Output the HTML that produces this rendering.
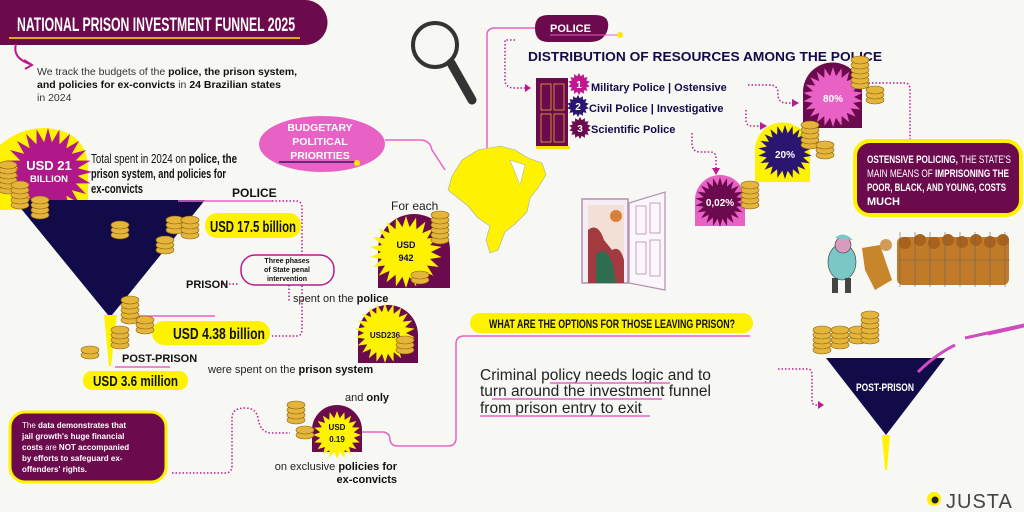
<!DOCTYPE html>
<html><head><meta charset="utf-8"><style>
html,body{margin:0;padding:0;background:#f7f7f3;}
svg{display:block;}
text{font-family:"Liberation Sans",sans-serif;}
.c{font-family:"Liberation Sans Narrow","Liberation Sans",sans-serif;font-weight:bold;}
</style></head><body>
<svg id="s" width="1024" height="512" viewBox="0 0 1024 512" xmlns="http://www.w3.org/2000/svg">
<rect width="1024" height="512" fill="#f7f7f3"/>
<!-- title -->
<path d="M0 0 H305 A22 22 0 0 1 305 45 H0 Z" fill="#6b0a4c"/>
<text x="17" y="31" class="c" font-size="19" fill="#fff" textLength="278" lengthAdjust="spacingAndGlyphs">NATIONAL PRISON INVESTMENT FUNNEL 2025</text>
<line x1="9" y1="38" x2="300" y2="38" stroke="#ffe600" stroke-width="1.5"/>
<path d="M16 44 Q12 58 30 64" stroke="#c0198f" stroke-width="2" fill="none"/>
<path d="M24 60 L32 65 L25 69" stroke="#c0198f" stroke-width="2" fill="none"/>
<text font-size="10.5" fill="#333"><tspan x="37" y="75">We track the budgets of the <tspan font-weight="bold" fill="#111">police, the prison system,</tspan></tspan><tspan x="37" y="88" font-weight="bold" fill="#111">and policies for ex-convicts <tspan font-weight="normal" fill="#333">in</tspan> 24 Brazilian states</tspan><tspan x="37" y="101">in 2024</tspan></text>

<!-- budget bubble -->
<ellipse cx="322" cy="144" rx="63" ry="28" fill="#e862c5"/>
<path d="M385 140 H420 Q430 140 432 150 L445 170" stroke="#e862c5" stroke-width="1.5" fill="none"/>
<text font-size="10.5" fill="#fff" font-weight="bold" text-anchor="middle"><tspan x="320" y="131">BUDGETARY</tspan><tspan x="320" y="145">POLITICAL</tspan><tspan x="320" y="159">PRIORITIES</tspan></text>
<line x1="279" y1="162" x2="355" y2="162" stroke="#120b4a" stroke-width="1.2"/><circle cx="357" cy="163" r="3" fill="#ffe600"/>

<!-- magnifier -->
<circle cx="435" cy="45" r="22" fill="#f7f7f3" stroke="#333" stroke-width="4"/>
<line x1="451" y1="63" x2="472" y2="100" stroke="#333" stroke-width="9" stroke-linecap="round"/>

<!-- Brazil map -->
<path d="M462 160 L478 150 L500 146 L515 150 L528 158 L542 163 L546 175 L538 188 L530 198 L527 212 L515 224 L505 232 L498 250 L490 253 L486 240 L490 226 L478 218 L468 206 L458 198 L448 190 L452 176 Z" fill="#fff200" stroke="#aaa" stroke-width=".6"/>
<path d="M510 160 L525 165 L520 185 Z" fill="#fff" stroke="#aaa" stroke-width=".5"/>
<path d="M487 148 V35 Q487 28 495 28 H535" stroke="#e862c5" stroke-width="1.5" fill="none"/>

<!-- police pill -->
<path d="M548 15 H595 Q610 15 608 28 Q605 42 590 42 H548 Q535 42 535 28 Q535 15 548 15Z" fill="#6b0a4c"/>
<text x="550" y="32" font-size="11" font-weight="bold" fill="#fff">POLICE</text>
<line x1="550" y1="35" x2="618" y2="35" stroke="#e862c5" stroke-width="1"/><circle cx="620" cy="35" r="3" fill="#ffe600"/>
<path d="M515 40 H505 V80 Q505 88 515 88 H527" stroke="#c0198f" stroke-width="1.5" stroke-dasharray="1.5 2" fill="none"/>
<path d="M525 84 L531 88 L525 92Z" fill="#c0198f"/>
<text x="528" y="61" font-size="12.5" font-weight="bold" fill="#120b4a" textLength="354" lengthAdjust="spacingAndGlyphs">DISTRIBUTION OF RESOURCES AMONG THE POLICE</text>
<!-- door -->
<rect x="536" y="78" width="32" height="68" fill="#6b0a4c"/><rect x="536" y="146" width="34" height="3" fill="#ffe600"/>
<rect x="541" y="84" width="10" height="26" fill="none" stroke="#e0b030" stroke-width=".8"/><rect x="554" y="84" width="10" height="26" fill="none" stroke="#e0b030" stroke-width=".8"/>
<rect x="541" y="114" width="10" height="28" fill="none" stroke="#e0b030" stroke-width=".8"/><rect x="554" y="114" width="10" height="28" fill="none" stroke="#e0b030" stroke-width=".8"/>
<g id="badges"></g>
<text font-size="11" font-weight="bold" fill="#120b4a"><tspan x="591" y="91">Military Police | Ostensive</tspan><tspan x="589" y="112">Civil Police | Investigative</tspan><tspan x="591" y="133">Scientific Police</tspan></text>
<text font-size="10" font-weight="bold" fill="#fff" text-anchor="middle"><tspan x="579" y="88">1</tspan><tspan x="578" y="110">2</tspan><tspan x="580" y="132">3</tspan></text>
<!-- dotted connectors -->
<g stroke="#c0198f" stroke-width="1.5" stroke-dasharray="1.5 2" fill="none">
<path d="M748 85 H770 Q777 85 778 92 V96 Q779 103 786 103 H792"/>
<path d="M746 110 V120 Q746 126 752 126 H760"/>
<path d="M692 133 V145 Q693 152 700 152 H710 Q716 152 716 158 V168"/>
<path d="M865 83 H905 Q910 83 910 90 V140"/>
<path d="M272 201 H296 Q302 201 302 208 V330 Q302 336 296 336 H272"/>
<path d="M222 284 H238"/>
<path d="M289 285 V302"/>
<path d="M172 473 H225 Q232 473 232 466 V418 Q232 408 245 408 Q256 408 258 418 Q260 433 272 433 H290"/>
<path d="M778 369 H808 Q812 369 812 375 V402 Q812 405 818 405"/>
</g>
<path d="M792 99 L799 103 L792 107Z M760 122 L767 126 L760 130Z M712 168 L716 175 L720 168Z M818 401 L824 405 L818 409Z" fill="#c0198f"/>

<!-- arches -->
<path d="M803 128 V92 A29 29 0 0 1 862 92 V128Z" fill="#6b0a4c"/>
<path d="M755 182 V150 A27 27 0 0 1 810 150 V182Z" fill="#fff200"/>
<path d="M695 226 V200 A25 25 0 0 1 745 200 V226Z" fill="#e862c5"/>
<g id="stars"></g>
<text font-size="10" font-weight="bold" fill="#fff" text-anchor="middle"><tspan x="833" y="102">80%</tspan><tspan x="785" y="158">20%</tspan><tspan x="720" y="206">0,02%</tspan></text>

<!-- ostensive box -->
<rect x="855" y="141" width="166" height="74" rx="15" fill="#6b0a4c" stroke="#fff200" stroke-width="4"/>
<text class="c" font-size="11" fill="#fff"><tspan x="867" y="163" textLength="144" lengthAdjust="spacingAndGlyphs">OSTENSIVE POLICING, <tspan font-weight="normal">THE STATE'S</tspan></tspan><tspan x="867" y="177" textLength="142" lengthAdjust="spacingAndGlyphs"><tspan font-weight="normal">MAIN MEANS OF </tspan>IMPRISONING THE</tspan><tspan x="867" y="191" textLength="139" lengthAdjust="spacingAndGlyphs">POOR, BLACK, AND YOUNG, COSTS</tspan><tspan x="867" y="205">MUCH</tspan></text>

<!-- cartoon -->
<g>
<ellipse cx="842" cy="262" rx="14" ry="18" fill="#7ac7c8" stroke="#333" stroke-width=".6"/>
<circle cx="843" cy="245" r="8" fill="#d99abf" stroke="#333" stroke-width=".6"/>
<path d="M835 238 Q843 230 853 240Z" fill="#7ac7c8"/>
<rect x="832" y="278" width="6" height="15" fill="#444"/><rect x="845" y="278" width="6" height="15" fill="#444"/>
<path d="M862 248 L880 245 L892 280 L875 290 L865 270Z" fill="#c8862a"/>
<circle cx="886" cy="245" r="6" fill="#d19a56"/>
<rect x="897" y="237" width="112" height="48" rx="6" fill="#c17a28"/>
<g fill="#a8621c"><circle cx="905" cy="243" r="6"/><circle cx="920" cy="240" r="6"/><circle cx="934" cy="243" r="6"/><circle cx="948" cy="240" r="6"/><circle cx="962" cy="242" r="6"/><circle cx="976" cy="240" r="6"/><circle cx="990" cy="242" r="6"/><circle cx="1003" cy="240" r="6"/></g>
<g stroke="#666" stroke-width=".6"><line x1="900" y1="232" x2="900" y2="287"/><line x1="915" y1="232" x2="915" y2="287"/><line x1="930" y1="232" x2="930" y2="287"/><line x1="945" y1="232" x2="945" y2="287"/><line x1="960" y1="232" x2="960" y2="287"/><line x1="975" y1="232" x2="975" y2="287"/><line x1="990" y1="232" x2="990" y2="287"/><line x1="1005" y1="232" x2="1005" y2="287"/><line x1="897" y1="260" x2="1010" y2="260"/></g>
</g>

<!-- open door -->
<rect x="582" y="199" width="46" height="84" fill="#f3eef4" stroke="#b58fb0" stroke-width="1.5"/>
<rect x="588" y="205" width="36" height="78" fill="#f2e0d6"/>
<circle cx="616" cy="216" r="6" fill="#d9813a"/>
<path d="M588 283 V230 Q598 222 604 240 L612 250 Q620 245 624 260 V283Z" fill="#a23b40"/>
<path d="M596 283 V255 Q605 245 612 262 L616 283Z" fill="#2c6e4f"/>
<path d="M629 203 L665 192 V290 L629 283Z" fill="#faf6fb" stroke="#b58fb0" stroke-width="1.2"/>
<rect x="636" y="206" width="10" height="28" fill="none" stroke="#b58fb0" stroke-width=".8"/><rect x="650" y="203" width="10" height="30" fill="none" stroke="#b58fb0" stroke-width=".8"/>
<rect x="636" y="242" width="10" height="32" fill="none" stroke="#b58fb0" stroke-width=".8"/><rect x="650" y="240" width="10" height="36" fill="none" stroke="#b58fb0" stroke-width=".8"/>

<!-- left big funnel -->
<path d="M0 210 V145 Q20 128 44 128 Q88 130 88 170 V210Z" fill="#fff200"/>
<g id="stars3"></g>
<text font-size="13" font-weight="bold" fill="#fff" text-anchor="middle"><tspan x="49" y="170">USD 21</tspan><tspan x="49" y="182" font-size="9.5">BILLION</tspan></text>
<path d="M14 200 H205 L112 315 H108 Z" fill="#120b4a"/>
<path d="M104 315 H117 L111 366 H109Z" fill="#fff200"/>
<line x1="178" y1="201" x2="272" y2="201" stroke="#e862c5" stroke-width="1.5"/>
<line x1="125" y1="316" x2="215" y2="316" stroke="#e862c5" stroke-width="1.5"/>
<line x1="115" y1="367" x2="170" y2="367" stroke="#e862c5" stroke-width="1.5"/>
<text font-size="13" fill="#111" class="c" style="font-weight:normal"><tspan x="91" y="163" textLength="146" lengthAdjust="spacingAndGlyphs">Total spent in 2024 on <tspan font-weight="bold">police, the</tspan></tspan><tspan x="91" y="178" font-weight="bold" textLength="135" lengthAdjust="spacingAndGlyphs">prison system, and policies for</tspan><tspan x="91" y="193" font-weight="bold" textLength="52" lengthAdjust="spacingAndGlyphs">ex-convicts</tspan></text>
<text x="232" y="197" class="c" font-size="12" fill="#111">POLICE</text>
<rect x="205" y="213" width="96" height="25" rx="12" fill="#fff200"/>
<text x="210" y="232" class="c" font-size="16" fill="#111" textLength="86" lengthAdjust="spacingAndGlyphs">USD 17.5 billion</text>
<rect x="241" y="255" width="93" height="30" rx="14" fill="#f7f7f3" stroke="#b8198f" stroke-width="1.5"/>
<text font-size="7" font-weight="bold" fill="#111" text-anchor="middle"><tspan x="287" y="263">Three phases</tspan><tspan x="287" y="272">of State penal</tspan><tspan x="287" y="281">intervention</tspan></text>
<text x="186" y="288" class="c" font-size="11" fill="#111">PRISON</text>
<rect x="152" y="321" width="118" height="24" rx="12" fill="#fff200"/>
<text x="173" y="339" class="c" font-size="16" fill="#111" textLength="92" lengthAdjust="spacingAndGlyphs">USD 4.38 billion</text>
<text x="122" y="362" class="c" font-size="11" fill="#111">POST-PRISON</text>
<rect x="83" y="371" width="105" height="19" rx="9" fill="#fff200"/>
<text x="93" y="386" class="c" font-size="15" fill="#111" textLength="85" lengthAdjust="spacingAndGlyphs">USD 3.6 million</text>

<!-- bottom-left box -->
<rect x="10" y="412" width="156" height="70" rx="15" fill="#6b0a4c" stroke="#fff200" stroke-width="3"/>
<text font-size="8" fill="#fff" font-weight="bold"><tspan x="22" y="428"><tspan font-weight="normal">The</tspan> data demonstrates that</tspan><tspan x="22" y="439">jail growth's huge financial</tspan><tspan x="22" y="450">costs <tspan font-weight="normal">are</tspan> NOT accompanied</tspan><tspan x="22" y="461">by efforts to safeguard ex-</tspan><tspan x="22" y="472">offenders' rights.</tspan></text>

<!-- middle column -->
<text x="391" y="210" font-size="12" fill="#222">For each</text>
<path d="M378 288 V250 A36 36 0 0 1 450 250 V288Z" fill="#6b0a4c"/>
<path d="M358 363 V335 A30 30 0 0 1 418 335 V363Z" fill="#6b0a4c"/>
<path d="M312 452 V430 A25 25 0 0 1 362 430 V452Z" fill="#6b0a4c"/>
<g id="stars2"></g>
<text font-size="9" font-weight="bold" fill="#120b4a" text-anchor="middle"><tspan x="406" y="248">USD</tspan><tspan x="406" y="261">942</tspan><tspan x="385" y="338" font-size="8">USD236</tspan><tspan x="337" y="430" font-size="8">USD</tspan><tspan x="337" y="442" font-size="8">0.19</tspan></text>
<text x="293" y="302" font-size="11" fill="#222">spent on the <tspan font-weight="bold" fill="#111">police</tspan></text>
<text x="208" y="373" font-size="11" fill="#222">were spent on the <tspan font-weight="bold" fill="#111">prison system</tspan></text>
<text x="345" y="401" font-size="11" fill="#222">and <tspan font-weight="bold" fill="#111">only</tspan></text>
<text font-size="11" fill="#222" text-anchor="end"><tspan x="397" y="470">on exclusive <tspan font-weight="bold" fill="#111">policies for</tspan></tspan><tspan x="397" y="483" font-weight="bold" fill="#111">ex-convicts</tspan></text>
<path d="M362 432 H382 Q390 432 390 440 Q391 446 398 446 H448 Q456 446 456 438 V344 Q456 336 464 336 H750" stroke="#e862c5" stroke-width="1.5" fill="none"/>

<!-- options -->
<rect x="470" y="313" width="283" height="20" rx="10" fill="#fff200"/>
<text x="489" y="328" class="c" font-size="12" fill="#111" textLength="246" lengthAdjust="spacingAndGlyphs">WHAT ARE THE OPTIONS FOR THOSE LEAVING PRISON?</text>
<text font-size="15.5" fill="#222"><tspan x="480" y="380">Criminal policy needs logic and to</tspan><tspan x="480" y="396">turn around the investment funnel</tspan><tspan x="480" y="413">from prison entry to exit</tspan></text>
<g stroke="#e862c5" stroke-width="1.5"><line x1="550" y1="383" x2="670" y2="383"/><line x1="492" y1="399" x2="662" y2="399"/><line x1="480" y1="416" x2="650" y2="416"/></g>

<!-- right funnel -->
<path d="M826 358 H945 L886 435 Z" fill="#120b4a"/>
<path d="M882 435 H890 L887 470 H885Z" fill="#fff200"/>
<g stroke="#d04bbf" stroke-width="3" fill="none"><path d="M918 372 Q935 355 955 345"/><path d="M965 338 L1024 325"/><path d="M988 334 L1024 326"/></g>
<text x="856" y="391" class="c" font-size="11" fill="#fff" textLength="58" lengthAdjust="spacingAndGlyphs">POST-PRISON</text>

<!-- JUSTA -->
<circle cx="934" cy="499" r="7" fill="#fff200"/><circle cx="935" cy="500" r="3.5" fill="#222"/>
<text x="946" y="508" font-size="20" fill="#444" letter-spacing="1">JUSTA</text>
<g id="coins"></g>
</svg>
<script>
function star(g,cx,cy,r1,r2,n,fill){var p=[];for(var i=0;i<2*n;i++){var a=Math.PI*i/n-Math.PI/2;var r=i%2?r2:r1;p.push((cx+r*Math.cos(a)).toFixed(1)+','+(cy+r*Math.sin(a)).toFixed(1));}
var e=document.createElementNS('http://www.w3.org/2000/svg','polygon');e.setAttribute('points',p.join(' '));e.setAttribute('fill',fill);document.getElementById(g).appendChild(e);}
star('stars',833,97,30,21,22,'#e862c5');
star('stars',785,152,27,19,22,'#2a1670');
star('stars',720,202,25,17,22,'#6b0a4c');
star('stars3',48,172,44,30,24,'#b0188a');
star('stars2',406,252,36,25,22,'#fff200');
star('stars2',385,333,30,21,22,'#fff200');
star('stars2',337,435,24,17,20,'#fff200');
star('badges',579,84,11,8,14,'#c0198f');
star('badges',578,106,11,8,14,'#2a1670');
star('badges',580,128,11,8,14,'#6b0a4c');
var icons=[[8,190,6],[20,205,5],[40,215,4],[120,235,3],[175,230,3],[190,235,4],[165,250,3],[120,345,4],[130,320,5],[145,330,3],[90,355,2],[860,85,6],[875,100,3],[810,145,5],[825,155,3],[750,205,5],[440,240,6],[420,280,2],[405,350,3],[296,420,4],[305,435,2],[822,350,5],[840,345,4],[858,340,3],[870,340,6]];
var g=document.getElementById('coins');
icons.forEach(function(c){for(var k=0;k<c[2];k++){var e=document.createElementNS('http://www.w3.org/2000/svg','ellipse');e.setAttribute('cx',c[0]);e.setAttribute('cy',c[1]-k*5);e.setAttribute('rx',9);e.setAttribute('ry',4);e.setAttribute('fill','#e4b53a');e.setAttribute('stroke','#8a6410');e.setAttribute('stroke-width','.6');g.appendChild(e);}});
</script>
</body></html>
